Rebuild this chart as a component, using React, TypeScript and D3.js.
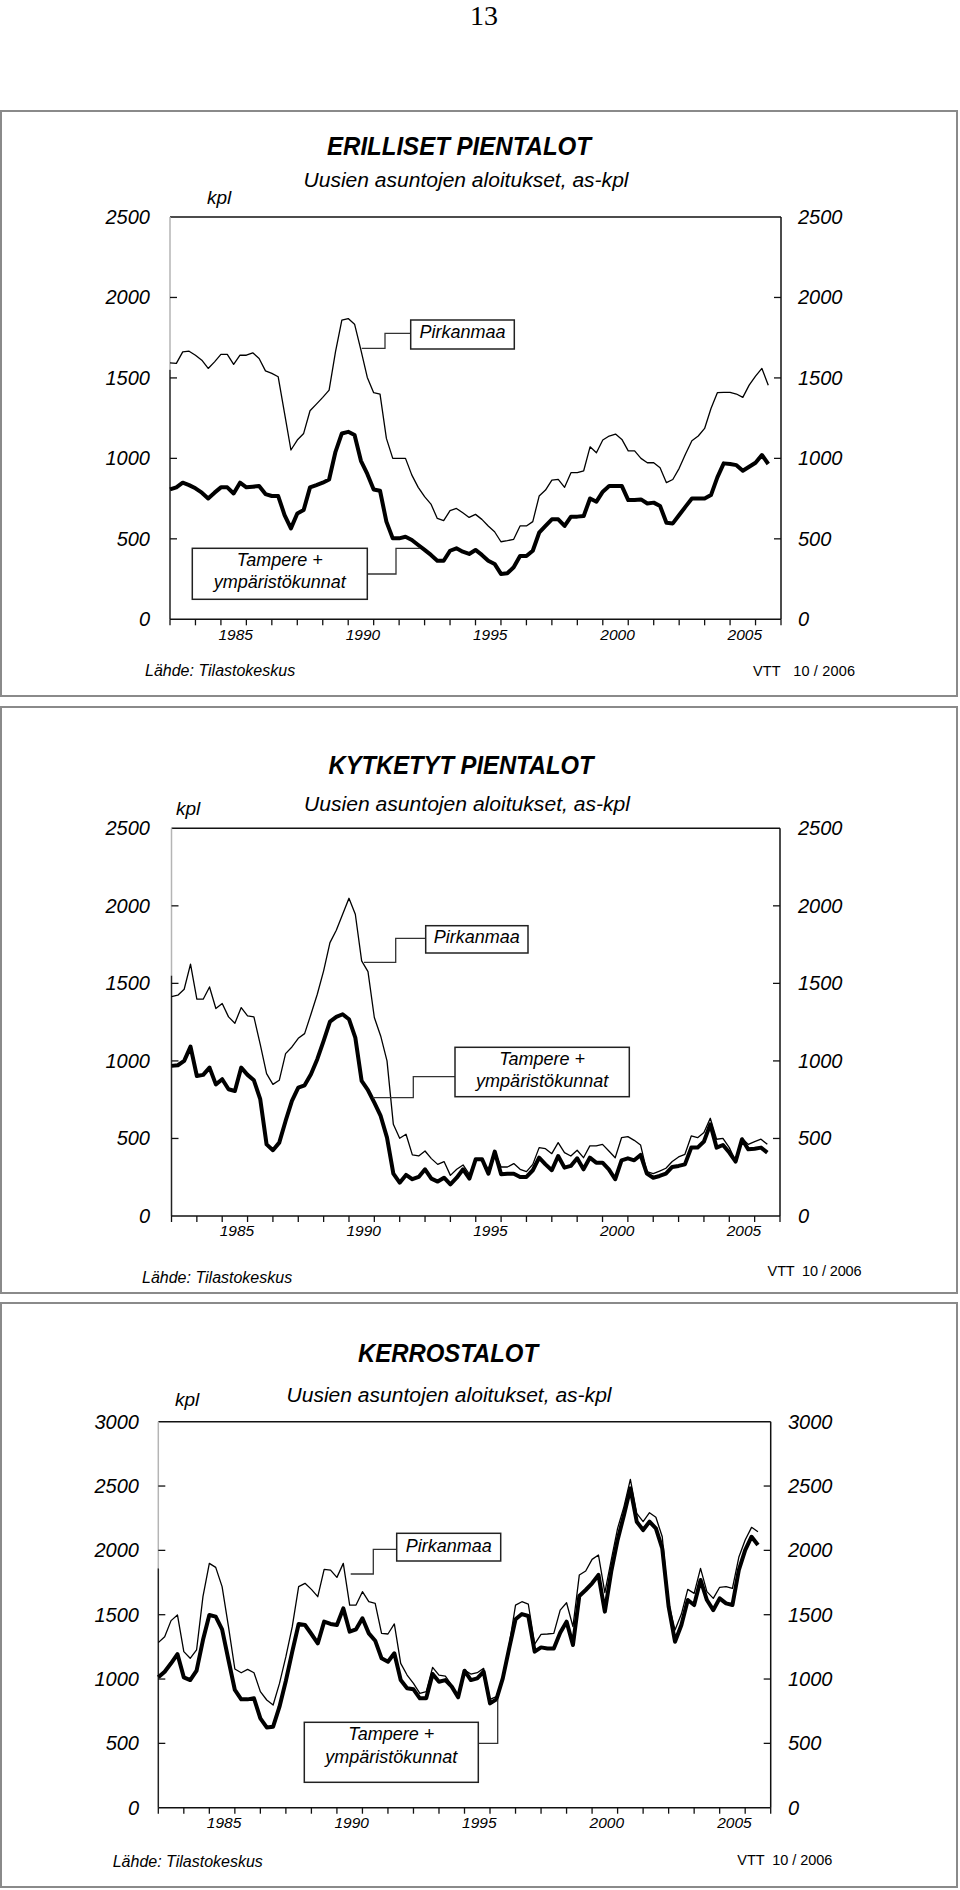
import React from 'react';
import * as d3 from 'd3';

// ---------- DATA (quarterly, 1983Q1 ... 2006Q3) ----------
const yearTicks = d3.range(1983, 2008);
const yearLabels = [1985, 1990, 1995, 2000, 2005];
const ticks2500 = [0, 500, 1000, 1500, 2000, 2500];
const ticks3000 = [0, 500, 1000, 1500, 2000, 2500, 3000];

const erillisetPirkanmaa = [1594,1590,1662,1666,1641,1610,1559,1600,1646,1646,1584,1641,1641,1656,1621,1544,1528,1507,1279,1052,1114,1155,1296,1337,1379,1424,1662,1859,1869,1834,1673,1503,1408,1399,1124,1000,1000,1000,896,820,762,716,627,613,675,689,662,633,652,621,580,544,482,489,497,580,580,607,766,803,865,869,820,911,911,923,1072,1035,1114,1139,1151,1118,1047,1047,1000,973,973,942,849,869,938,1027,1110,1139,1186,1310,1408,1410,1410,1400,1379,1455,1511,1559,1455];
const erillisetTampere = [807,820,849,834,814,787,751,787,820,820,782,849,820,824,828,778,766,766,648,565,658,679,820,834,849,869,1041,1155,1165,1145,985,903,807,799,607,503,503,513,493,462,431,400,364,364,426,441,420,406,431,400,364,344,282,286,323,393,393,426,538,580,621,621,580,638,638,642,751,731,793,828,828,828,741,741,745,720,725,704,600,596,648,700,751,751,751,772,882,969,965,958,923,948,973,1021,965];

const kytketytPirkanmaa = [1415,1424,1462,1624,1398,1398,1477,1338,1370,1284,1243,1344,1290,1284,1107,918,849,875,1047,1090,1146,1176,1301,1430,1581,1763,1843,1946,2049,1946,1645,1576,1280,1161,1000,591,501,527,394,387,419,370,333,351,262,301,329,269,366,355,301,415,316,316,338,301,286,333,441,434,402,473,409,387,424,376,452,452,462,419,376,505,512,488,458,286,273,290,308,351,381,398,516,505,538,630,495,501,441,355,501,462,480,495,462];
const kytketytTampere = [968,972,1000,1092,903,910,957,849,882,817,806,957,910,875,753,462,424,473,613,742,828,843,914,1011,1129,1254,1284,1301,1269,1150,871,811,731,645,505,273,215,265,237,252,301,241,222,247,204,247,301,241,366,366,273,415,269,273,273,252,252,295,376,333,295,387,312,323,372,301,376,344,344,301,237,359,372,359,394,273,247,258,273,316,323,333,441,441,480,591,441,458,409,351,495,430,434,441,409];

const kerrosPirkanmaa = [1283,1329,1454,1498,1213,1161,1226,1640,1899,1868,1718,1407,1078,1049,1075,1049,902,837,798,966,1174,1407,1718,1744,1697,1640,1853,1847,1790,1899,1575,1575,1679,1601,1588,1355,1350,1428,1122,1031,966,889,902,1091,1031,1023,953,863,1070,1039,1049,1083,842,863,1018,1264,1575,1601,1583,1272,1347,1350,1355,1536,1593,1407,1809,1840,1930,1964,1671,1925,2171,2340,2552,2288,2223,2293,2257,2106,1588,1381,1505,1697,1666,1860,1679,1627,1713,1718,1705,1946,2081,2179,2145];
const kerrosTampere = [1013,1057,1122,1194,1013,992,1065,1303,1498,1485,1386,1148,915,842,842,850,694,624,630,785,987,1213,1428,1420,1350,1277,1446,1428,1420,1549,1368,1386,1472,1355,1298,1161,1135,1200,992,928,920,850,850,1039,979,992,941,858,1065,992,1005,1057,811,842,1005,1238,1464,1505,1490,1213,1246,1238,1238,1360,1446,1264,1645,1692,1744,1809,1524,1835,2081,2275,2482,2223,2158,2223,2171,2015,1562,1290,1420,1614,1575,1770,1614,1536,1627,1588,1575,1847,2002,2106,2042];

const titles = ['ERILLISET PIENTALOT', 'KYTKETYT PIENTALOT', 'KERROSTALOT'];
const subtitle = 'Uusien asuntojen aloitukset, as-kpl';
const source = 'Lähde: Tilastokeskus';

// ---------- LAYOUT ----------
type Pt = [number, number];
interface Layout {
  frame: [number, number, number, number];
  plot: { l: number; r: number; t: number; b: number };
  yMax: number; yTicks: number[];
  titleX: number; titleY: number; titleLen: number;
  subX: number; subY: number; subLen: number;
  kplX: number; kplY: number;
  leftLabX: number; rightLabX: number; xLabY: number;
  srcX: number; srcY: number; vttX: number; vttY: number; vtt: string; vttLen: number;
  pirkBox: [number, number, number, number]; pirkTextY: number; pirkLeader: Pt[];
  tampBox: [number, number, number, number]; tampY1: number; tampY2: number; tampLeader: Pt[];
  pirk: number[]; tamp: number[]; title: string;
}

const layouts: Layout[] = [
  {
    frame: [1, 111, 957, 696], plot: { l: 170, r: 781, t: 217, b: 619.3 },
    yMax: 2500, yTicks: ticks2500,
    titleX: 459, titleY: 155, titleLen: 264, subX: 466, subY: 187, subLen: 325,
    kplX: 207, kplY: 204, leftLabX: 150, rightLabX: 798, xLabY: 639.5,
    srcX: 145, srcY: 676, vttX: 753, vttY: 676, vtt: 'VTT   10 / 2006', vttLen: 102,
    pirkBox: [410.7, 320, 514.3, 349], pirkTextY: 337.5,
    pirkLeader: [[410.7, 333.3], [385, 333.3], [385, 348.3], [361.7, 348.3]],
    tampBox: [192.3, 548.3, 367.3, 599.3], tampY1: 566, tampY2: 588.3,
    tampLeader: [[367.3, 574], [396, 574], [396, 548.3], [420, 548.3]],
    pirk: erillisetPirkanmaa, tamp: erillisetTampere, title: titles[0],
  },
  {
    frame: [1, 707, 957, 1293], plot: { l: 171.5, r: 780, t: 828.3, b: 1216 },
    yMax: 2500, yTicks: ticks2500,
    titleX: 461, titleY: 773.6, titleLen: 265, subX: 467, subY: 811, subLen: 326,
    kplX: 176, kplY: 815, leftLabX: 150, rightLabX: 798, xLabY: 1236,
    srcX: 142, srcY: 1283, vttX: 767.6, vttY: 1276, vtt: 'VTT  10 / 2006', vttLen: 94,
    pirkBox: [425.7, 925.7, 528, 953], pirkTextY: 943,
    pirkLeader: [[425.7, 938.3], [395.7, 938.3], [395.7, 962.3], [364, 962.3]],
    tampBox: [455, 1047.3, 629.3, 1096.7], tampY1: 1065, tampY2: 1087,
    tampLeader: [[455, 1076.7], [413.3, 1076.7], [413.3, 1097.7], [372.7, 1097.7]],
    pirk: kytketytPirkanmaa, tamp: kytketytTampere, title: titles[1],
  },
  {
    frame: [1, 1303, 957, 1887], plot: { l: 158.3, r: 770.7, t: 1421.7, b: 1807.7 },
    yMax: 3000, yTicks: ticks3000,
    titleX: 448, titleY: 1362, titleLen: 180, subX: 449, subY: 1401.5, subLen: 325,
    kplX: 175, kplY: 1406, leftLabX: 139, rightLabX: 788, xLabY: 1828,
    srcX: 112.7, srcY: 1867, vttX: 737.3, vttY: 1865, vtt: 'VTT  10 / 2006', vttLen: 95,
    pirkBox: [396.7, 1533.3, 500.7, 1561], pirkTextY: 1551.5,
    pirkLeader: [[396.7, 1549.3], [373.3, 1549.3], [373.3, 1574], [350.7, 1574]],
    tampBox: [304.3, 1722.3, 478.3, 1782.3], tampY1: 1740, tampY2: 1763,
    tampLeader: [[478.3, 1743.3], [497.7, 1743.3], [497.7, 1700]],
    pirk: kerrosPirkanmaa, tamp: kerrosTampere, title: titles[2],
  },
];

const SANS = '"Liberation Sans", Arial, Helvetica, sans-serif';
const SERIF = '"Liberation Serif", "Times New Roman", serif';

function Panel({ L }: { L: Layout }) {
  const { plot } = L;
  const x = d3.scaleLinear().domain([0, 96]).range([plot.l, plot.r]);
  const y = d3.scaleLinear().domain([0, L.yMax]).range([plot.b, plot.t]);
  const line = d3.line<number>().x((_, i) => x(i)).y((v) => y(v));
  const leader = d3.line<Pt>().x((p) => p[0]).y((p) => p[1]);
  const [fx0, fy0, fx1, fy1] = L.frame;
  const [px0, py0, px1, py1] = L.pirkBox;
  const [tx0, ty0, tx1, ty1] = L.tampBox;
  const grayTop = plot.t + (plot.b - plot.t) * 0.38;
  return (
    <g>
      <rect x={fx0} y={fy0} width={fx1 - fx0} height={fy1 - fy0} fill="none" stroke="#8a8a8a" strokeWidth={2} />
      <text x={L.titleX} y={L.titleY} textAnchor="middle" fontFamily={SANS} fontSize={25} fontWeight="bold" fontStyle="italic"
        textLength={L.titleLen} lengthAdjust="spacingAndGlyphs">{L.title}</text>
      <text x={L.subX} y={L.subY} textAnchor="middle" fontFamily={SANS} fontSize={20} fontStyle="italic"
        textLength={L.subLen} lengthAdjust="spacingAndGlyphs">{subtitle}</text>
      <text x={L.kplX} y={L.kplY} fontFamily={SANS} fontSize={19} fontStyle="italic">kpl</text>

      {/* frame of plot */}
      <line x1={plot.l} x2={plot.r} y1={plot.t} y2={plot.t} stroke="#111" strokeWidth={1.5} />
      <line x1={plot.r} x2={plot.r} y1={plot.t} y2={plot.b} stroke="#111" strokeWidth={1.5} />
      <line x1={plot.l} x2={plot.l} y1={plot.t} y2={grayTop} stroke="#b5b5b5" strokeWidth={1.5} />
      <line x1={plot.l} x2={plot.l} y1={grayTop} y2={plot.b} stroke="#222" strokeWidth={1.5} />
      <line x1={plot.l} x2={plot.r} y1={plot.b} y2={plot.b} stroke="#111" strokeWidth={1.5} />

      {/* y ticks and labels */}
      {L.yTicks.map((v) => (
        <g key={v}>
          {v > 0 && v < L.yMax && (
            <>
              <line x1={plot.l} x2={plot.l + 7} y1={y(v)} y2={y(v)} stroke="#111" strokeWidth={1.3} />
              <line x1={plot.r - 7} x2={plot.r} y1={y(v)} y2={y(v)} stroke="#111" strokeWidth={1.3} />
            </>
          )}
          <text x={L.leftLabX} y={y(v) + 7} textAnchor="end" fontFamily={SANS} fontSize={20} fontStyle="italic">{v}</text>
          <text x={L.rightLabX} y={y(v) + 7} textAnchor="start" fontFamily={SANS} fontSize={20} fontStyle="italic">{v}</text>
        </g>
      ))}

      {/* x ticks */}
      {yearTicks.map((yr, k) => (
        <line key={yr} x1={x(k * 4)} x2={x(k * 4)} y1={plot.b} y2={plot.b + 6} stroke="#111" strokeWidth={1.3} />
      ))}
      {yearLabels.map((yr) => (
        <text key={yr} x={x((yr - 1983) * 4 + 2) + 2} y={L.xLabY} textAnchor="middle" fontFamily={SANS} fontSize={15.5} fontStyle="italic">{yr}</text>
      ))}

      {/* series */}
      <path d={line(L.pirk) || ''} fill="none" stroke="#000" strokeWidth={1.3} strokeLinejoin="round" />
      <path d={line(L.tamp) || ''} fill="none" stroke="#000" strokeWidth={4} strokeLinejoin="round" />

      {/* legends */}
      <path d={leader(L.pirkLeader) || ''} fill="none" stroke="#333" strokeWidth={1.3} />
      <rect x={px0} y={py0} width={px1 - px0} height={py1 - py0} fill="#fff" stroke="#222" strokeWidth={1.5} />
      <text x={(px0 + px1) / 2} y={L.pirkTextY} textAnchor="middle" fontFamily={SANS} fontSize={18} fontStyle="italic">Pirkanmaa</text>

      <path d={leader(L.tampLeader) || ''} fill="none" stroke="#333" strokeWidth={1.3} />
      <rect x={tx0} y={ty0} width={tx1 - tx0} height={ty1 - ty0} fill="#fff" stroke="#222" strokeWidth={1.5} />
      <text x={(tx0 + tx1) / 2} y={L.tampY1} textAnchor="middle" fontFamily={SANS} fontSize={18} fontStyle="italic">Tampere +</text>
      <text x={(tx0 + tx1) / 2} y={L.tampY2} textAnchor="middle" fontFamily={SANS} fontSize={18} fontStyle="italic">ympäristökunnat</text>

      {/* footer */}
      <text x={L.srcX} y={L.srcY} fontFamily={SANS} fontSize={16} fontStyle="italic">{source}</text>
      <text x={L.vttX} y={L.vttY} fontFamily={SANS} fontSize={14.5} textLength={L.vttLen} lengthAdjust="spacing" style={{ whiteSpace: 'pre' }}>{L.vtt}</text>
    </g>
  );
}

export default function App() {
  return (
    <svg width={960} height={1890} viewBox="0 0 960 1890"
      style={{ position: 'absolute', left: 0, top: 0, background: '#fff' }}>
      <rect x={0} y={0} width={960} height={1890} fill="#fff" />
      <text x={484} y={25} textAnchor="middle" fontFamily={SERIF} fontSize={28}>13</text>
      {layouts.map((L, i) => <Panel key={i} L={L} />)}
    </svg>
  );
}
